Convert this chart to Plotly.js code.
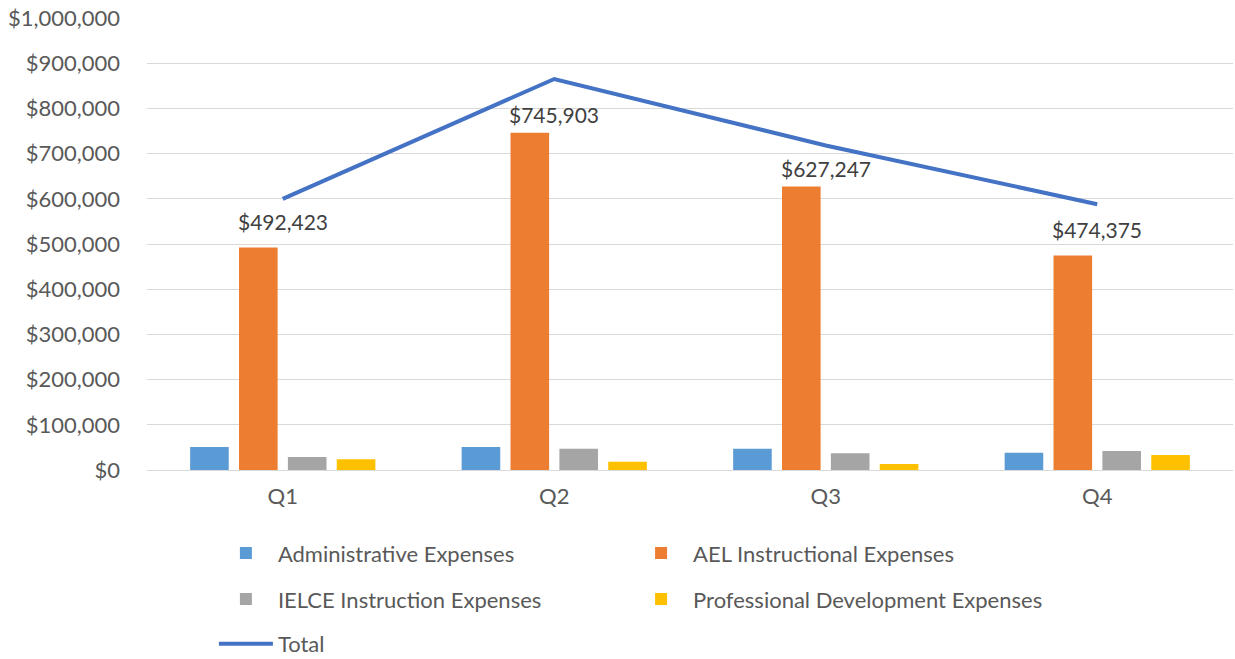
<!DOCTYPE html>
<html>
<head>
<meta charset="utf-8">
<script src="https://cdn.plot.ly/plotly-3.0.1.min.js"></script>
<style>
html, body { margin: 0; padding: 0; background: #ffffff; }
#chart { width: 1235px; height: 659px; }
</style>
</head>
<body>
<div id="chart"></div>
<script>
const quarters = ['Q1', 'Q2', 'Q3', 'Q4'];
const adminExpenses = [51000, 51000, 47000, 38000];
const aelExpenses = [492423, 745903, 627247, 474375];
const ielceExpenses = [29000, 47000, 37000, 42000];
const profDevExpenses = [24000, 18000, 13000, 33000];
const totals = [600000, 865000, 718000, 588000];
const yTickVals = [0, 100000, 200000, 300000, 400000, 500000, 600000, 700000, 800000, 900000, 1000000];
const yTickText = ['$0', '$100,000', '$200,000', '$300,000', '$400,000', '$500,000', '$600,000', '$700,000', '$800,000', '$900,000', '$1,000,000'];

// label offsets above the bars (style only)
const labelShift = [11, 4, 3, 12];

const FONT = 'Lato, "Noto Sans", sans-serif';
const TXT = '#595959';

function money(v) { return '$' + v.toLocaleString('en-US'); }

const traces = [
  { type: 'bar', name: 'Administrative Expenses', x: quarters, y: adminExpenses,
    marker: { color: '#5B9BD5' }, legend: 'legend' },
  { type: 'bar', name: 'AEL Instructional Expenses', x: quarters, y: aelExpenses,
    marker: { color: '#ED7D31' }, legend: 'legend2' },
  { type: 'bar', name: 'IELCE Instruction Expenses', x: quarters, y: ielceExpenses,
    marker: { color: '#A5A5A5' }, legend: 'legend3' },
  { type: 'bar', name: 'Professional Development Expenses', x: quarters, y: profDevExpenses,
    marker: { color: '#FFC000' }, legend: 'legend4' },
  { type: 'scatter', mode: 'lines', name: 'Total', x: quarters, y: totals,
    line: { color: '#4472C4', width: 4 }, legend: 'legend5' }
];

const annotations = quarters.map((q, i) => ({
  x: q, y: aelExpenses[i], xref: 'x', yref: 'y',
  text: money(aelExpenses[i]), showarrow: false,
  yanchor: 'bottom', yshift: labelShift[i],
  font: { family: FONT, size: 21, color: '#404040' }
}));

const legendBase = {
  orientation: 'h', xanchor: 'left', yanchor: 'middle',
  itemwidth: 54,
  font: { family: FONT, size: 22, color: TXT },
  bgcolor: 'rgba(0,0,0,0)', traceorder: 'normal'
};
const col1 = 0.0616, col2 = 0.4439;
const row1 = -0.184, row2 = -0.286, row3 = -0.385;

const layout = {
  width: 1235, height: 659,
  margin: { l: 147, r: 2, t: 18, b: 189, autoexpand: false },
  paper_bgcolor: '#ffffff', plot_bgcolor: '#ffffff',
  font: { family: FONT, size: 22, color: TXT },
  barmode: 'group', bargap: 0.28, bargroupgap: 0.21,
  showlegend: true,
  xaxis: {
    type: 'category', showgrid: false, zeroline: false, showline: false,
    ticks: '', ticklabelstandoff: 11,
    tickfont: { family: FONT, size: 22, color: TXT }
  },
  yaxis: {
    range: [0, 1000000], tickvals: yTickVals, ticktext: yTickText,
    showgrid: true, gridcolor: '#D9D9D9', gridwidth: 1,
    zeroline: true, zerolinecolor: '#D9D9D9', zerolinewidth: 1,
    showline: false, ticks: '', ticklabelstandoff: 26,
    tickfont: { family: FONT, size: 22, color: TXT }
  },
  legend: Object.assign({}, legendBase, { x: col1, y: row1 }),
  legend2: Object.assign({}, legendBase, { x: col2, y: row1 }),
  legend3: Object.assign({}, legendBase, { x: col1, y: row2 }),
  legend4: Object.assign({}, legendBase, { x: col2, y: row2 }),
  legend5: Object.assign({}, legendBase, { x: col1, y: row3 }),
  annotations: annotations
};

Plotly.newPlot('chart', traces, layout, { displayModeBar: false, responsive: false });
</script>
</body>
</html>
